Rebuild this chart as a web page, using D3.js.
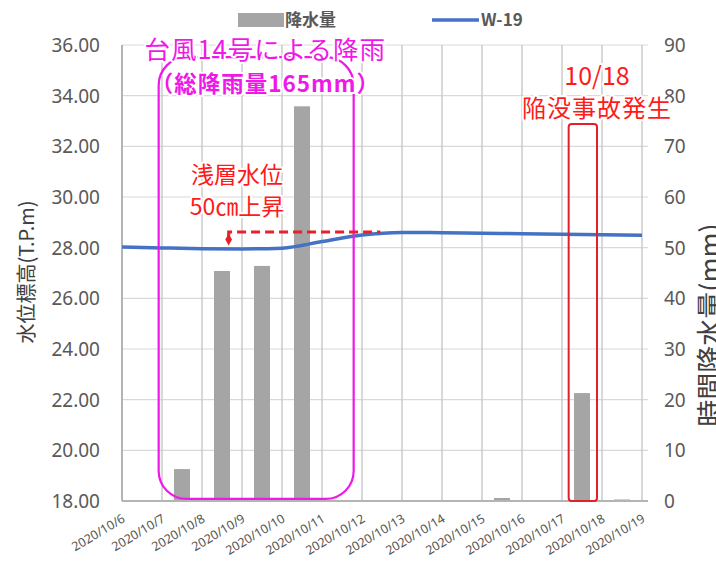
<!DOCTYPE html>
<html>
<head>
<meta charset="utf-8">
<script src="https://cdn.jsdelivr.net/npm/d3@7"></script>
<style>
  body { margin: 0; background: #fff; }
  svg { display: block; }
</style>
</head>
<body>
<svg id="chart" width="716" height="566"></svg>
<script>
// ---- data ----
const dateLabels = ["2020/10/6","2020/10/7","2020/10/8","2020/10/9","2020/10/10","2020/10/11",
  "2020/10/12","2020/10/13","2020/10/14","2020/10/15","2020/10/16","2020/10/17","2020/10/18","2020/10/19"];

// daily rainfall (mm), drawn as bars across each day
const rainDays   = ["2020/10/7","2020/10/8","2020/10/9","2020/10/10","2020/10/15","2020/10/17","2020/10/18"];
const rainValues = [6.3, 45.4, 46.4, 77.9, 0.6, 21.3, 0.3];

// groundwater level at W-19 (T.P.m)
const levelDays   = dateLabels;
const levelValues = [28.03, 27.99, 27.96, 27.95, 27.98, 28.24, 28.50, 28.60, 28.59, 28.57, 28.55, 28.53, 28.51, 28.49];

const leftTicks  = [18, 20, 22, 24, 26, 28, 30, 32, 34, 36];
const rightTicks = [0, 10, 20, 30, 40, 50, 60, 70, 80, 90];

const seriesNames = ["降水量", "W-19"];
const leftTitle  = "水位標高(T.P.m)";
const rightTitle = "時間降水量(mm)";

// ---- layout ----
const svg = d3.select("#chart");
const plot = { left: 122, right: 642, top: 45, bottom: 501 };
const parse = d3.timeParse("%Y/%m/%d");
const JP = "'Noto Sans CJK JP', 'Noto Sans', sans-serif";

const x = d3.scaleTime()
  .domain([parse(dateLabels[0]), parse(dateLabels[dateLabels.length - 1])])
  .range([plot.left, plot.right]);
const yL = d3.scaleLinear().domain([18, 36]).range([plot.bottom, plot.top]);
const yR = d3.scaleLinear().domain([0, 90]).range([plot.bottom, plot.top]);
const hrs = (d, h) => d3.timeHour.offset(parse(d), h);

// ---- grid ----
const grid = svg.append("g");
grid.selectAll("line.h").data(leftTicks.slice(1)).join("line")
  .attr("x1", plot.left).attr("x2", plot.right + 6)
  .attr("y1", d => yL(d)).attr("y2", d => yL(d))
  .attr("stroke", "#d9d9d9").attr("stroke-width", 1.2);
grid.selectAll("line.v").data(dateLabels.slice(1)).join("line")
  .attr("x1", d => x(parse(d))).attr("x2", d => x(parse(d)))
  .attr("y1", plot.top).attr("y2", plot.bottom)
  .attr("stroke", "#c8c8c8").attr("stroke-width", 1.4);

// ---- bars ----
const barW = 16;
svg.append("g").selectAll("rect").data(rainDays.map((d, i) => ({ d, v: rainValues[i] }))).join("rect")
  .attr("x", r => x(hrs(r.d, 12)) - barW / 2)
  .attr("width", barW)
  .attr("y", r => yR(r.v))
  .attr("height", r => yR(0) - yR(r.v))
  .attr("fill", "#a5a5a5");

// ---- axes lines ----
svg.append("line").attr("x1", plot.left).attr("x2", plot.left)
  .attr("y1", plot.top).attr("y2", plot.bottom)
  .attr("stroke", "#b4b4b4").attr("stroke-width", 2);
svg.append("line").attr("x1", plot.left).attr("x2", plot.right + 6)
  .attr("y1", plot.bottom).attr("y2", plot.bottom)
  .attr("stroke", "#b4b4b4").attr("stroke-width", 2);

// ---- level line ----
const line = d3.line()
  .x((d, i) => x(parse(levelDays[i])))
  .y(d => yL(d))
  .curve(d3.curveMonotoneX);
svg.append("path").datum(levelValues)
  .attr("d", line)
  .attr("fill", "none").attr("stroke", "#4472c4").attr("stroke-width", 3.5);

// ---- tick labels ----
svg.append("g").selectAll("text").data(leftTicks).join("text")
  .attr("x", 100).attr("y", d => yL(d)).attr("dy", "0.36em")
  .attr("text-anchor", "end")
  .attr("font-family", "'Noto Sans', sans-serif").attr("font-size", 19)
  .attr("fill", "#595959")
  .text(d => d3.format(".2f")(d));
svg.append("g").selectAll("text").data(rightTicks).join("text")
  .attr("x", 664).attr("y", d => yR(d)).attr("dy", "0.36em")
  .attr("text-anchor", "start")
  .attr("font-family", "'Noto Sans', sans-serif").attr("font-size", 19)
  .attr("fill", "#595959")
  .text(d => d);
svg.append("g").selectAll("text").data(dateLabels).join("text")
  .attr("transform", d => `translate(${x(parse(d)) + 4},${plot.bottom + 20}) rotate(-31)`)
  .attr("text-anchor", "end")
  .attr("font-family", "'Noto Sans', sans-serif").attr("font-size", 12.5)
  .attr("fill", "#555")
  .text(d => d);

// ---- axis titles ----
svg.append("text")
  .attr("transform", `translate(27,${(plot.top + plot.bottom) / 2 - 1}) rotate(-90)`)
  .attr("text-anchor", "middle").attr("dy", "0.35em")
  .attr("font-family", JP).attr("font-size", 20).attr("fill", "#404040")
  .text(leftTitle);
svg.append("text")
  .attr("transform", `translate(711,${(plot.top + plot.bottom) / 2 + 52}) rotate(-90)`)
  .attr("text-anchor", "middle").attr("dy", "0.35em")
  .attr("font-family", JP).attr("font-size", 27).attr("fill", "#404040")
  .text(rightTitle);

// ---- legend ----
const lg = svg.append("g").attr("font-family", JP).attr("font-size", 17)
  .attr("font-weight", "bold").attr("fill", "#595959");
lg.append("rect").attr("x", 238).attr("y", 13).attr("width", 46).attr("height", 14).attr("fill", "#a5a5a5");
lg.append("text").attr("x", 285).attr("y", 20).attr("dy", "0.36em").text(seriesNames[0]);
lg.append("line").attr("x1", 432).attr("x2", 479).attr("y1", 20).attr("y2", 20)
  .attr("stroke", "#4472c4").attr("stroke-width", 3.5);
lg.append("text").attr("x", 481).attr("y", 20).attr("dy", "0.36em").text(seriesNames[1]);

// ---- annotations ----
const halo = sel => sel.attr("stroke", "#fff").attr("stroke-width", 4)
  .attr("paint-order", "stroke").attr("stroke-linejoin", "round");

// typhoon rainfall window
const mag = "#f018e8";
const boxL = x(hrs("2020/10/6", 22)), boxR = x(hrs("2020/10/11", 19));
svg.append("rect")
  .attr("x", boxL).attr("y", yL(35.52))
  .attr("width", boxR - boxL).attr("height", yL(18.08) - yL(35.52))
  .attr("rx", 28).attr("ry", 28)
  .attr("fill", "none").attr("stroke", mag).attr("stroke-width", 2.2);
const tcx = x(hrs("2020/10/9", 14));
svg.append("text").attr("x", tcx).attr("y", yL(35.8)).attr("dy", "0.36em")
  .attr("text-anchor", "middle").attr("font-family", JP).attr("font-size", 25.5)
  .attr("letter-spacing", 1)
  .attr("fill", mag).call(halo).text("台風14号による降雨");
svg.append("text").attr("x", tcx).attr("y", yL(34.45)).attr("dy", "0.36em")
  .attr("text-anchor", "middle").attr("font-family", JP).attr("font-size", 22.5)
  .attr("font-weight", "bold").attr("letter-spacing", 1)
  .attr("fill", mag).call(halo).text("（総降雨量165mm）");

// accident day
const red = "#ff1a1a";
const rL = x(hrs("2020/10/17", 4)), rR = x(hrs("2020/10/17", 21));
svg.append("rect")
  .attr("x", rL).attr("y", yR(74.4))
  .attr("width", rR - rL).attr("height", yR(0) - yR(74.4))
  .attr("rx", 3).attr("ry", 3)
  .attr("fill", "none").attr("stroke", "#e0202a").attr("stroke-width", 2);
const acx = x(hrs("2020/10/18", -3));
svg.append("text").attr("x", acx).attr("y", yR(83.8)).attr("dy", "0.36em")
  .attr("text-anchor", "middle").attr("font-family", JP).attr("font-size", 25)
  .attr("fill", red).call(halo).text("10/18");
svg.append("text").attr("x", acx).attr("y", yR(77.4)).attr("dy", "0.36em")
  .attr("text-anchor", "middle").attr("font-family", JP).attr("font-size", 24)
  .attr("letter-spacing", 1)
  .attr("fill", red).call(halo).text("陥没事故発生");

// shallow groundwater rise
const riseLevel = 28.62, riseFrom = 28.32;
const dx0 = x(hrs("2020/10/8", 16)), dx1 = x(hrs("2020/10/12", 11));
svg.append("path")
  .attr("d", `M${dx0},${yL(riseFrom) - 2}V${yL(riseLevel)}H${dx1}`)
  .attr("fill", "none").attr("stroke", "#e8202a").attr("stroke-width", 3)
  .attr("stroke-dasharray", "9,5");
svg.append("path")
  .attr("d", d3.symbol(d3.symbolDiamond, 40)())
  .attr("transform", `translate(${dx0},${yL(riseFrom)})`)
  .attr("fill", "#e8202a");
const wcx = x(hrs("2020/10/8", 21));
svg.append("text").attr("x", wcx).attr("y", yL(30.88)).attr("dy", "0.36em")
  .attr("text-anchor", "middle").attr("font-family", JP).attr("font-size", 23)
  .attr("fill", red).call(halo).text("浅層水位");
svg.append("text").attr("x", wcx).attr("y", yL(29.62)).attr("dy", "0.36em")
  .attr("text-anchor", "middle").attr("font-family", JP).attr("font-size", 23)
  .attr("fill", red).call(halo).text("50㎝上昇");
</script>
</body>
</html>
